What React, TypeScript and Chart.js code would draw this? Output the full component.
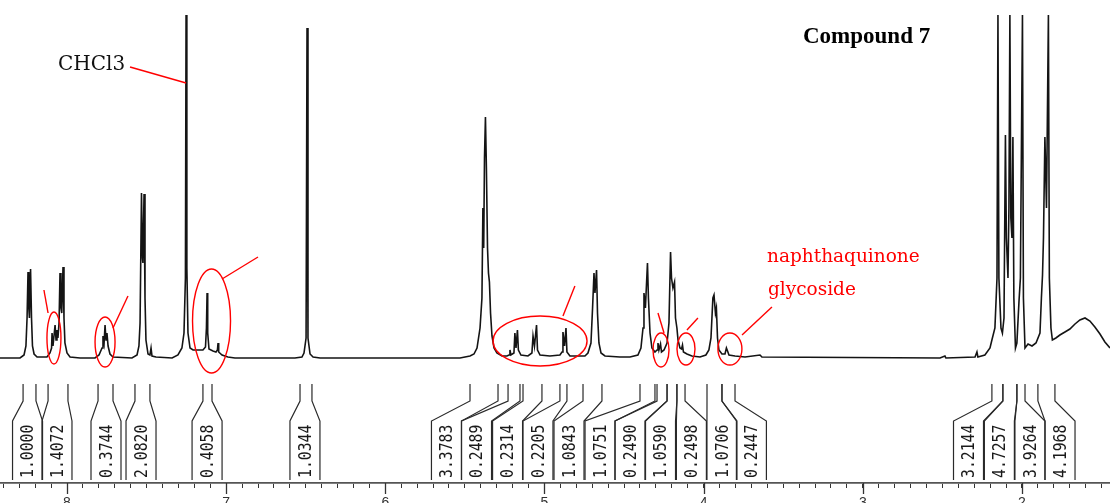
import React, { useEffect, useRef } from 'react';
import { Chart, registerables } from 'chart.js';

Chart.register(...registerables);

// 1H NMR spectrum: [chemical shift (ppm), intensity (arb.)]
const spectrum: [number, number][] = [
  [8.421, 0], [8.295, 0], [8.270, 3], [8.258, 12], [8.251, 40], [8.245, 86], [8.240, 50], [8.236, 40], [8.229, 89], [8.223, 40], [8.217, 12], [8.207, 4], [8.188, 1],
  [8.126, 1], [8.107, 5], [8.097, 10], [8.094, 25], [8.088, 12], [8.075, 33], [8.069, 18], [8.063, 28], [8.057, 20], [8.050, 35], [8.044, 85], [8.038, 50], [8.033, 45], [8.025, 91], [8.019, 40], [8.013, 15], [8.000, 5], [7.981, 1], [7.918, 0],
  [7.824, 0], [7.799, 3], [7.780, 10], [7.774, 22], [7.767, 15], [7.761, 33], [7.755, 18], [7.749, 25], [7.742, 12], [7.730, 4], [7.711, 1],
  [7.592, 0], [7.560, 3], [7.548, 12], [7.541, 35], [7.532, 165], [7.526, 100], [7.523, 95], [7.516, 164], [7.510, 60], [7.504, 18], [7.491, 4], [7.479, 3], [7.472, 10], [7.466, 2], [7.441, 1],
  [7.340, 0], [7.303, 3], [7.278, 10], [7.265, 25], [7.256, 80], [7.252, 343], [7.247, 90], [7.240, 25], [7.227, 10], [7.208, 8], [7.183, 8], [7.146, 8], [7.130, 11], [7.124, 30], [7.120, 65], [7.116, 25], [7.108, 9], [7.083, 7], [7.064, 6], [7.055, 8], [7.051, 15], [7.047, 6], [7.026, 3], [6.989, 1], [6.945, 0],
  [6.568, 0], [6.524, 1], [6.511, 5], [6.498, 20], [6.492, 330], [6.486, 20], [6.473, 4], [6.454, 1], [6.410, 0],
  [5.531, 0], [5.468, 2], [5.443, 4], [5.424, 10], [5.405, 30], [5.393, 60], [5.387, 150], [5.382, 110], [5.377, 200], [5.371, 241], [5.365, 190], [5.358, 110], [5.352, 85], [5.346, 76], [5.339, 45], [5.330, 22], [5.317, 10], [5.299, 5], [5.267, 2], [5.236, 2],
  [5.223, 3], [5.217, 8], [5.211, 3], [5.192, 5], [5.186, 25], [5.179, 10], [5.170, 28], [5.164, 8], [5.148, 3], [5.104, 2], [5.079, 5], [5.072, 22], [5.063, 12], [5.050, 33], [5.044, 8], [5.028, 3], [4.966, 2], [4.903, 3], [4.890, 6], [4.884, 26], [4.874, 12], [4.865, 30], [4.859, 6], [4.840, 2], [4.790, 2],
  [4.746, 2], [4.727, 5], [4.708, 15], [4.698, 50], [4.689, 85], [4.683, 65], [4.673, 88], [4.667, 45], [4.658, 15], [4.645, 5], [4.620, 2], [4.526, 1],
  [4.463, 1], [4.413, 3], [4.394, 10], [4.381, 30], [4.375, 65], [4.366, 50], [4.353, 95], [4.347, 60], [4.337, 25], [4.325, 10], [4.306, 6], [4.293, 8], [4.287, 15], [4.281, 8], [4.271, 14], [4.265, 6], [4.249, 8], [4.230, 15], [4.218, 35], [4.208, 106], [4.202, 80], [4.193, 70], [4.183, 76], [4.177, 40], [4.168, 30], [4.161, 18], [4.149, 10], [4.139, 9], [4.133, 13], [4.127, 6], [4.105, 4], [4.074, 2],
  [4.023, 1], [3.986, 3], [3.967, 8], [3.954, 20], [3.942, 60], [3.935, 63], [3.926, 45], [3.920, 50], [3.913, 20], [3.904, 8], [3.885, 4], [3.866, 4], [3.857, 10], [3.850, 7], [3.841, 3], [3.803, 2], [3.740, 1], [3.646, 3], [3.634, 1],
  [2.515, 0], [2.484, 2], [2.478, 0], [2.295, 1], [2.283, 6], [2.277, 1], [2.233, 3], [2.201, 10], [2.189, 18], [2.170, 30], [2.157, 80], [2.151, 343], [2.145, 80], [2.132, 30], [2.123, 25], [2.113, 40], [2.104, 223], [2.098, 120], [2.088, 80], [2.082, 150], [2.076, 343], [2.070, 140], [2.063, 120], [2.057, 221], [2.051, 60], [2.041, 10], [2.032, 15], [2.019, 56], [2.010, 80], [1.997, 343], [1.991, 60], [1.981, 10], [1.962, 14], [1.937, 12], [1.912, 15], [1.887, 25], [1.878, 60], [1.871, 83], [1.865, 120], [1.856, 221], [1.846, 150], [1.834, 343], [1.828, 80], [1.818, 30], [1.809, 18], [1.787, 20], [1.762, 23], [1.730, 26], [1.699, 29], [1.667, 34], [1.636, 38], [1.604, 40], [1.573, 37], [1.542, 31], [1.510, 24], [1.479, 16], [1.447, 10],
];

// Integrals
const integralValues = ['1.0000', '1.4072', '0.3744', '2.0820', '0.4058', '1.0344', '3.3783', '0.2489', '0.2314', '0.2205', '1.0843', '1.0751', '0.2490', '1.0590', '0.2498', '1.0706', '0.2447', '3.2144', '4.7257', '3.9264', '4.1968'];
const integralStart = [8.276, 8.119, 7.805, 7.573, 7.146, 6.536, 5.468, 5.229, 5.135, 4.903, 4.758, 4.400, 4.293, 4.230, 4.168, 3.979, 3.885, 2.189, 2.120, 2.032, 1.900];
const integralEnd = [8.195, 7.994, 7.711, 7.479, 7.089, 6.461, 5.292, 5.154, 5.016, 4.859, 4.639, 4.306, 4.230, 4.168, 4.117, 3.885, 3.803, 2.120, 2.032, 1.981, 1.793];
const integralLabelAt = [8.248, 8.063, 7.755, 7.535, 7.120, 6.505, 5.616, 5.427, 5.232, 5.041, 4.846, 4.651, 4.463, 4.271, 4.077, 3.885, 3.700, 2.336, 2.142, 1.950, 1.761];

// Axis
const axisMin = 1.447;
const axisMax = 8.421;
const majorTickPpm = [2, 3, 4, 5, 6, 7, 8];
const tickLabels = ['2', '3', '4', '5', '6', '7', '8'];

// Red annotation marks (ellipse centres in ppm / intensity)
const markPpm = [8.082, 7.761, 7.092, 5.028, 4.268, 4.111, 3.835];
const markInt = [20, 16, 37, 17, 8, 9, 9];
const markRx = [7, 10, 19, 47, 8, 9, 12];
const markRy = [26, 25, 52, 25, 17, 16, 16];
// leader lines: [ppm1, int1, ppm2, int2]
const leaders: [number, number, number, number][] = [
  [8.145, 68, 8.119, 45],
  [7.711, 30, 7.617, 62],
  [7.026, 79, 6.800, 101],
  [4.884, 42, 4.809, 72],
  [4.287, 45, 4.249, 25],
  [4.105, 28, 4.036, 40],
  [3.759, 23, 3.571, 51],
];
const solventLeader: [number, number, number, number] = [7.604, 291, 7.252, 275];
const solventLabel = 'CHCl3';
const groupLabel = ['naphthaquinone', 'glycoside'];
const titleText = 'Compound 7';

export default function App() {
  const ref = useRef<HTMLCanvasElement>(null);

  useEffect(() => {
    document.body.style.margin = '0';
    document.body.style.overflow = 'hidden';
    const canvas = ref.current!;

    const overlay = {
      id: 'nmrOverlay',
      afterDraw(chart: any) {
        const ctx = chart.ctx as CanvasRenderingContext2D;
        const xs = chart.scales.x;
        const ys = chart.scales.y;
        const bottom = chart.chartArea.bottom;
        const X = (v: number) => xs.getPixelForValue(v);
        const Y = (v: number) => ys.getPixelForValue(v);
        ctx.save();

        // major ticks
        ctx.strokeStyle = '#333';
        ctx.lineWidth = 1.3;
        majorTickPpm.forEach((p) => {
          const x = Math.round(X(p)) + 0.5;
          ctx.beginPath();
          ctx.moveTo(x, bottom);
          ctx.lineTo(x, bottom + 11);
          ctx.stroke();
        });

        // integral brackets and values
        ctx.strokeStyle = '#2a2a2a';
        ctx.lineWidth = 1.2;
        const yBoxBottom = bottom - 3;
        const yBoxTop = bottom - 62;
        const yKnee = bottom - 82;
        const yTop = bottom - 99;
        const half = 15;
        integralValues.forEach((val, i) => {
          const c = X(integralLabelAt[i]);
          const bl = c - half;
          const br = c + half;
          const rl = X(integralStart[i]);
          const rr = X(integralEnd[i]);
          ctx.beginPath();
          ctx.moveTo(bl, yBoxBottom);
          ctx.lineTo(bl, yBoxTop);
          ctx.lineTo(rl, yKnee);
          ctx.lineTo(rl, yTop);
          ctx.moveTo(br, yBoxBottom);
          ctx.lineTo(br, yBoxTop);
          ctx.lineTo(rr, yKnee);
          ctx.lineTo(rr, yTop);
          ctx.stroke();
          ctx.save();
          ctx.translate(c + 1, yBoxBottom - 2);
          ctx.rotate(-Math.PI / 2);
          ctx.scale(0.82, 1);
          ctx.fillStyle = '#1a1a1a';
          ctx.font = '18px "DejaVu Sans Mono"';
          ctx.textAlign = 'left';
          ctx.textBaseline = 'middle';
          ctx.fillText(val, 0, 0);
          ctx.restore();
        });

        // red annotations
        ctx.strokeStyle = '#ff0000';
        ctx.lineWidth = 1.4;
        markPpm.forEach((p, i) => {
          ctx.beginPath();
          ctx.ellipse(X(p), Y(markInt[i]), markRx[i], markRy[i], 0, 0, Math.PI * 2);
          ctx.stroke();
        });
        leaders.forEach(([p1, i1, p2, i2]) => {
          ctx.beginPath();
          ctx.moveTo(X(p1), Y(i1));
          ctx.lineTo(X(p2), Y(i2));
          ctx.stroke();
        });
        ctx.beginPath();
        ctx.moveTo(X(solventLeader[0]), Y(solventLeader[1]));
        ctx.lineTo(X(solventLeader[2]), Y(solventLeader[3]));
        ctx.stroke();

        // texts
        ctx.textAlign = 'left';
        ctx.textBaseline = 'alphabetic';
        ctx.fillStyle = '#111';
        ctx.font = '20px "DejaVu Serif"';
        ctx.fillText(solventLabel, X(8.057), Y(288));

        ctx.fillStyle = '#ff0000';
        ctx.font = '18.5px "DejaVu Serif"';
        ctx.fillText(groupLabel[0], X(3.602), Y(96));
        ctx.fillText(groupLabel[1], X(3.596), Y(63));

        ctx.fillStyle = '#000';
        ctx.font = 'bold 23px "Liberation Serif"';
        ctx.fillText(titleText, 803, 43);

        ctx.restore();
      },
    };

    const chart = new Chart(canvas, {
      type: 'line',
      data: {
        datasets: [
          {
            data: spectrum.map(([x, y]) => ({ x, y })),
            borderColor: '#141414',
            borderWidth: 1.6,
            pointRadius: 0,
            tension: 0,
            fill: false,
          },
        ],
      },
      options: {
        animation: false,
        responsive: false,
        devicePixelRatio: 1,
        layout: { padding: 0 },
        plugins: {
          legend: { display: false },
          tooltip: { enabled: false },
          title: { display: false },
        },
        scales: {
          x: {
            type: 'linear',
            reverse: true,
            min: axisMin,
            max: axisMax,
            position: 'bottom',
            afterFit: (s: any) => {
              s.height = 37;
              s.paddingLeft = 0;
              s.paddingRight = 0;
            },
            border: { display: true, color: '#555', width: 1.8 },
            grid: { drawOnChartArea: false, drawTicks: true, tickLength: 5, color: '#333', lineWidth: 1 },
            ticks: {
              stepSize: 0.1,
              autoSkip: false,
              maxRotation: 0,
              includeBounds: false,
              padding: 7,
              color: '#333',
              font: { family: 'Liberation Sans', size: 14 },
              callback: (v: any) => {
                const i = majorTickPpm.findIndex((m) => Math.abs(m - Number(v)) < 1e-6);
                return i >= 0 ? tickLabels[i] : '';
              },
            },
          },
          y: { display: false, min: -125, max: 358 },
        },
      } as any,
      plugins: [overlay],
    });
    return () => chart.destroy();
  }, []);

  return (
    <div style={{ width: 1110, height: 503, overflow: 'hidden', background: '#fff' }}>
      <canvas ref={ref} width={1110} height={520} style={{ display: 'block' }} />
    </div>
  );
}
